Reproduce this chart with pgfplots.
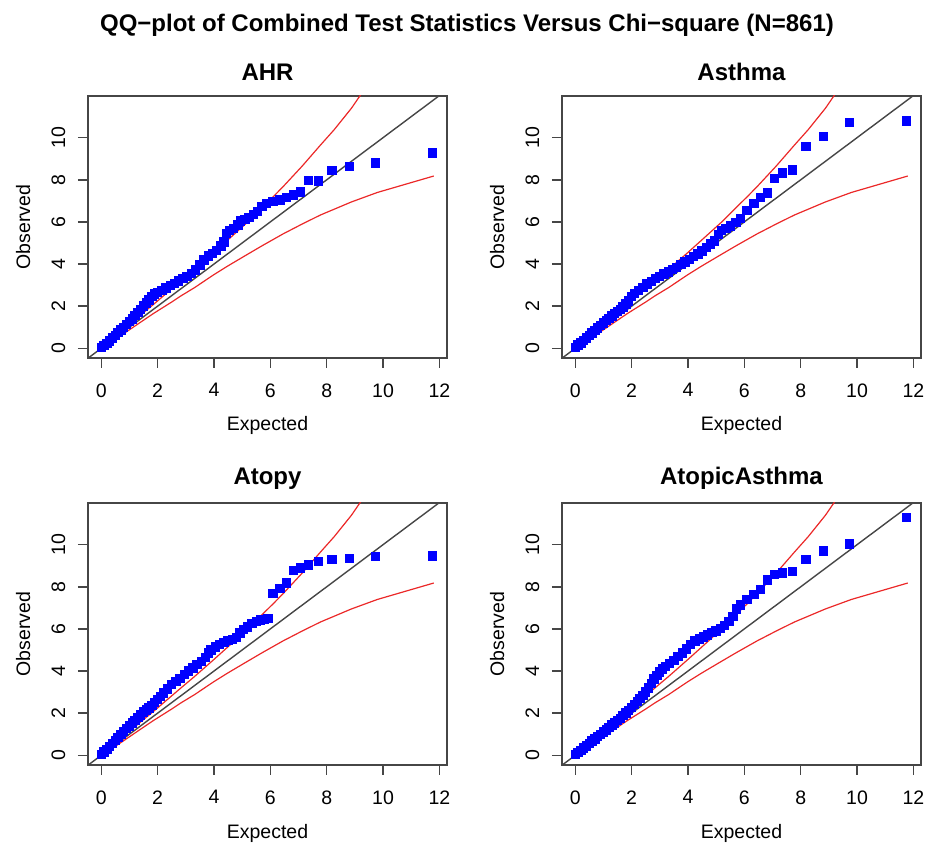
\documentclass[border=0pt]{standalone}
\usepackage{fontspec}
\setmainfont{Liberation Sans}
\usepackage{pgfplots}
\pgfplotsset{compat=1.18}
\usepackage{pgfplotstable}

% confidence band (same for all panels)
\pgfplotstableread{
x y
0.00 0.00
0.306 0.361
0.88 1.006
1.43 1.62
1.85 2.08
2.48 2.80
2.83 3.20
3.31 3.74
3.99 4.54
4.48 5.13
5.20 6.00
5.71 6.68
6.12 7.22
6.45 7.67
7.13 8.65
7.78 9.65
8.26 10.37
8.88 11.40
9.80 13.20
}\upperband
\pgfplotstableread{
x y
0.00 0.00
0.306 0.255
0.88 0.77
1.43 1.27
1.85 1.65
2.48 2.18
2.83 2.49
3.31 2.88
3.99 3.49
4.48 3.90
5.20 4.47
5.71 4.87
6.12 5.18
6.45 5.43
7.13 5.90
7.78 6.33
8.26 6.60
8.88 6.95
9.80 7.40
11.80 8.18
}\lowerband

\pgfplotstableread{
x y
0.00 0.05
0.10 0.12
0.20 0.22
0.30 0.35
0.40 0.48
0.50 0.60
0.60 0.74
0.70 0.87
0.80 1.00
0.90 1.13
1.00 1.27
1.10 1.40
1.20 1.55
1.30 1.70
1.40 1.85
1.50 2.00
1.60 2.15
1.70 2.30
1.80 2.45
1.90 2.57
2.00 2.65
2.15 2.75
2.30 2.86
2.45 2.97
2.60 3.08
2.75 3.20
2.90 3.30
3.05 3.42
3.20 3.55
3.35 3.72
3.50 3.95
3.65 4.20
3.80 4.38
3.95 4.50
4.10 4.65
4.25 4.85
4.35 5.05
4.45 5.45
4.55 5.60
4.70 5.70
4.85 5.85
4.95 6.05
5.10 6.12
5.25 6.22
5.40 6.35
5.55 6.50
5.70 6.72
5.87 6.87
6.10 6.98
6.34 7.05
6.58 7.17
6.82 7.27
7.07 7.43
7.36 7.97
7.72 7.95
8.19 8.45
8.80 8.63
9.74 8.80
11.76 9.27
}\ahr

\pgfplotstableread{
x y
0.00 0.05
0.10 0.15
0.20 0.25
0.30 0.37
0.40 0.48
0.50 0.60
0.60 0.72
0.70 0.84
0.80 0.96
0.90 1.08
1.00 1.20
1.10 1.31
1.20 1.42
1.30 1.53
1.40 1.64
1.50 1.75
1.60 1.85
1.70 1.96
1.80 2.10
1.90 2.25
2.00 2.45
2.10 2.60
2.25 2.75
2.40 2.90
2.55 3.05
2.70 3.18
2.85 3.30
3.00 3.40
3.15 3.52
3.30 3.63
3.45 3.73
3.60 3.85
3.75 3.98
3.90 4.10
4.05 4.22
4.20 4.35
4.35 4.48
4.50 4.62
4.65 4.78
4.80 4.95
4.95 5.10
5.08 5.40
5.20 5.60
5.35 5.70
5.50 5.80
5.70 5.97
5.87 6.15
6.10 6.55
6.34 6.87
6.58 7.17
6.82 7.37
7.07 8.07
7.36 8.33
7.72 8.47
8.19 9.58
8.80 10.05
9.74 10.72
11.76 10.80
}\asthma

\pgfplotstableread{
x y
0.00 0.05
0.10 0.15
0.20 0.28
0.30 0.42
0.40 0.55
0.50 0.70
0.60 0.84
0.70 0.98
0.80 1.12
0.90 1.26
1.00 1.40
1.10 1.53
1.20 1.66
1.30 1.79
1.40 1.92
1.50 2.05
1.60 2.15
1.70 2.25
1.80 2.36
1.90 2.50
2.00 2.64
2.10 2.80
2.20 2.95
2.35 3.15
2.50 3.35
2.65 3.50
2.80 3.65
2.95 3.85
3.10 4.00
3.25 4.15
3.40 4.30
3.55 4.45
3.70 4.65
3.80 4.85
3.90 5.00
4.05 5.15
4.20 5.25
4.35 5.35
4.50 5.45
4.65 5.50
4.80 5.60
4.92 5.80
5.05 5.98
5.20 6.10
5.35 6.25
5.50 6.35
5.65 6.42
5.80 6.45
5.92 6.50
6.10 7.68
6.34 7.92
6.58 8.19
6.82 8.77
7.07 8.90
7.36 9.03
7.72 9.20
8.19 9.30
8.80 9.35
9.74 9.44
11.76 9.46
}\atopy

\pgfplotstableread{
x y
0.00 0.05
0.10 0.14
0.20 0.24
0.30 0.34
0.40 0.45
0.50 0.56
0.60 0.67
0.70 0.78
0.80 0.89
0.90 0.99
1.00 1.10
1.10 1.21
1.20 1.32
1.30 1.43
1.40 1.54
1.50 1.65
1.60 1.76
1.70 1.88
1.80 2.01
1.90 2.14
2.00 2.27
2.10 2.40
2.20 2.55
2.30 2.70
2.40 2.85
2.50 3.00
2.60 3.20
2.70 3.42
2.80 3.62
2.90 3.80
3.00 3.95
3.10 4.10
3.20 4.22
3.35 4.35
3.50 4.50
3.65 4.68
3.80 4.86
3.95 5.05
4.10 5.25
4.25 5.42
4.40 5.52
4.55 5.62
4.70 5.72
4.85 5.82
5.00 5.90
5.15 6.02
5.30 6.15
5.45 6.35
5.60 6.60
5.72 6.95
5.87 7.13
6.10 7.40
6.34 7.63
6.58 7.87
6.82 8.33
7.07 8.59
7.36 8.65
7.72 8.72
8.19 9.30
8.80 9.70
9.74 10.03
11.76 11.29
}\atopicasthma

\definecolor{bandred}{RGB}{235,40,40}
\definecolor{boxgray}{RGB}{70,70,70}

\pgfplotsset{qq/.style={
  scale only axis, width=179.5pt, height=131pt,
  xmin=-0.47, xmax=12.27, ymin=-0.46, ymax=11.98,
  xtick={0,2,...,12}, ytick={0,2,...,10},
  tick align=outside, major tick length=5pt, tick pos=left,
  axis line style={boxgray, line width=0.7pt},
  every tick/.style={boxgray, line width=0.7pt},
  tick label style={font=\fontsize{9.75}{10}\selectfont,
    /pgf/number format/assume math mode=true},
  xticklabel style={anchor=north, inner sep=0pt, yshift=-7.5pt},
  yticklabel style={rotate=90, anchor=base, inner sep=0pt, yshift=6.5pt},
  clip=true,
}}
\tikzset{
  pts/.style={only marks, mark=square*, mark size=2.1pt,
    mark options={fill=blue, draw=blue, line width=0pt}},
  diag/.style={boxgray, line width=0.7pt},
  band/.style={bandred, line width=0.6pt},
  lab/.style={font=\fontsize{9.75}{10}\selectfont},
  ttl/.style={font=\bfseries\fontsize{12}{14}\selectfont, anchor=base},
}

\begin{document}
\begin{tikzpicture}
\useasboundingbox (0,0) rectangle (467pt,422.5pt);

\node[ttl] at (233.5pt,406.5pt) {QQ−plot of Combined Test Statistics Versus Chi−square (N=861)};

\begin{axis}[qq, at={(44pt,243.5pt)}, anchor=south west]
\addplot[pts] table {\ahr};
\addplot[diag] coordinates {(-0.47,-0.47) (12.27,12.27)};
\addplot[band] table {\upperband};
\addplot[band] table {\lowerband};
\end{axis}

\begin{axis}[qq, at={(281pt,243.5pt)}, anchor=south west]
\addplot[pts] table {\asthma};
\addplot[diag] coordinates {(-0.47,-0.47) (12.27,12.27)};
\addplot[band] table {\upperband};
\addplot[band] table {\lowerband};
\end{axis}

\begin{axis}[qq, at={(44pt,40pt)}, anchor=south west]
\addplot[pts] table {\atopy};
\addplot[diag] coordinates {(-0.47,-0.47) (12.27,12.27)};
\addplot[band] table {\upperband};
\addplot[band] table {\lowerband};
\end{axis}

\begin{axis}[qq, at={(281pt,40pt)}, anchor=south west]
\addplot[pts] table {\atopicasthma};
\addplot[diag] coordinates {(-0.47,-0.47) (12.27,12.27)};
\addplot[band] table {\upperband};
\addplot[band] table {\lowerband};
\end{axis}

% panel titles and axis labels
\node[ttl] at (133.75pt,382pt) {AHR};
\node[ttl] at (370.75pt,382pt) {Asthma};
\node[ttl] at (133.75pt,180pt) {Atopy};
\node[ttl] at (370.75pt,180pt) {AtopicAsthma};

\node[lab, anchor=base] at (133.75pt,207.2pt) {Expected};
\node[lab, anchor=base] at (370.75pt,207.2pt) {Expected};
\node[lab, anchor=base] at (133.75pt,3pt) {Expected};
\node[lab, anchor=base] at (370.75pt,3pt) {Expected};

\node[lab, rotate=90, anchor=base] at (15pt,309pt) {Observed};
\node[lab, rotate=90, anchor=base] at (252pt,309pt) {Observed};
\node[lab, rotate=90, anchor=base] at (15pt,105.5pt) {Observed};
\node[lab, rotate=90, anchor=base] at (252pt,105.5pt) {Observed};
\end{tikzpicture}
\end{document}
